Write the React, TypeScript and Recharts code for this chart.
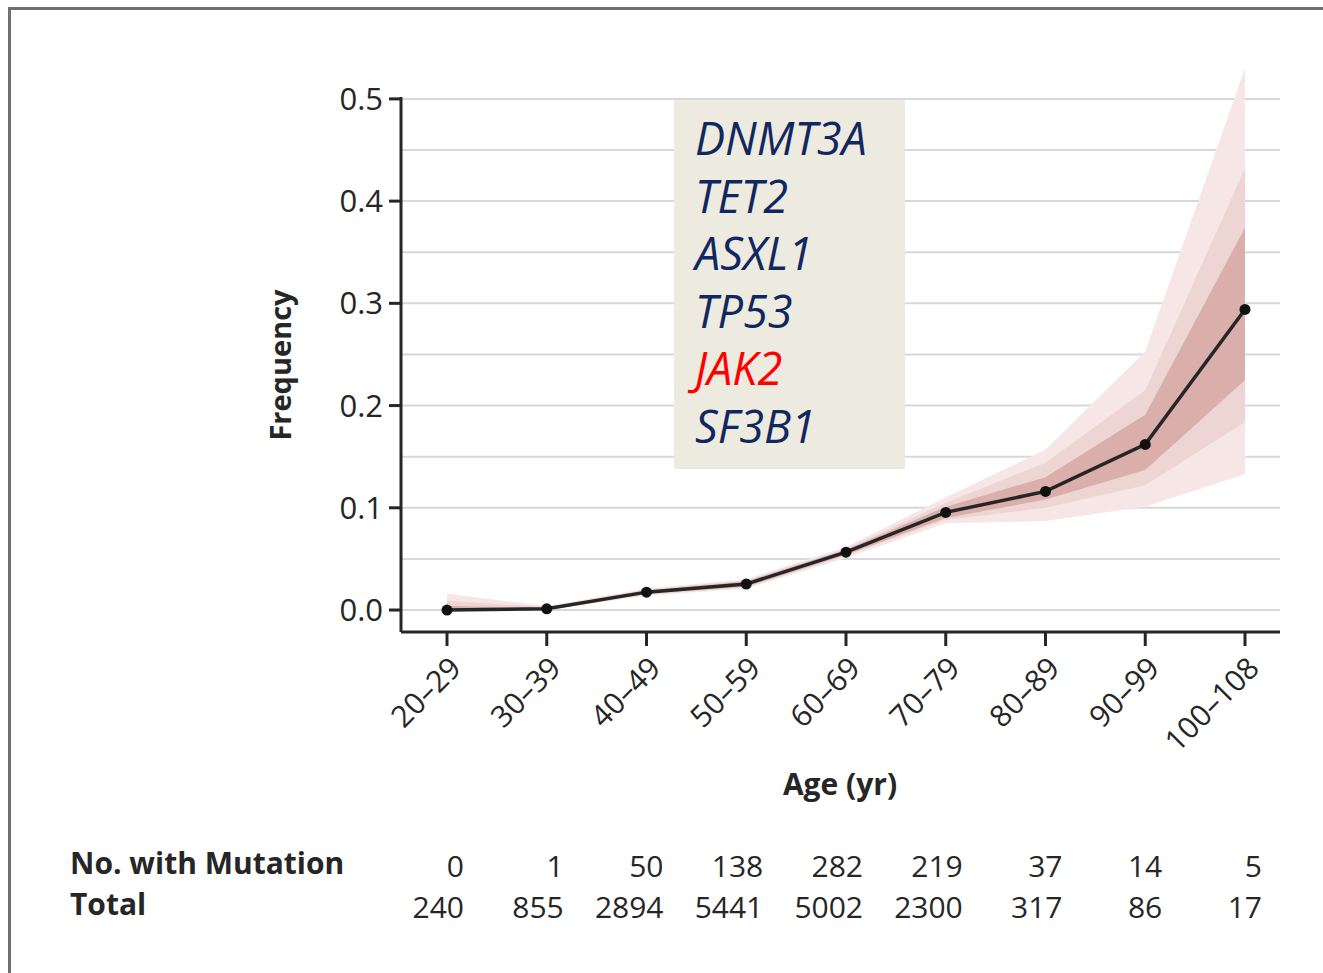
import { ComposedChart, Area, Line, XAxis, YAxis, CartesianGrid } from "recharts";

const ageGroups = ["20–29", "30–39", "40–49", "50–59", "60–69", "70–79", "80–89", "90–99", "100–108"];
const frequency = [0, 0.0012, 0.0175, 0.0254, 0.0566, 0.0955, 0.116, 0.162, 0.294];
const outerBand = [
  [0, 0.016], [0, 0.004], [0.014, 0.021], [0.021, 0.03], [0.051, 0.062],
  [0.085, 0.11], [0.087, 0.157], [0.101, 0.253], [0.133, 0.53],
];
const middleBand = [
  [0, 0.009], [0, 0.003], [0.015, 0.02], [0.022, 0.029], [0.053, 0.06],
  [0.088, 0.105], [0.1, 0.144], [0.122, 0.215], [0.184, 0.432],
];
const innerBand = [
  [0, 0.004], [0, 0.002], [0.016, 0.019], [0.023, 0.028], [0.054, 0.059],
  [0.09, 0.101], [0.108, 0.13], [0.137, 0.191], [0.225, 0.374],
];
const withMutation = [0, 1, 50, 138, 282, 219, 37, 14, 5];
const totals = [240, 855, 2894, 5441, 5002, 2300, 317, 86, 17];
const yTicks = [0, 0.1, 0.2, 0.3, 0.4, 0.5];
const gridValues = [0, 0.05, 0.1, 0.15, 0.2, 0.25, 0.3, 0.35, 0.4, 0.45, 0.5];
const genes = ["DNMT3A", "TET2", "ASXL1", "TP53", "JAK2", "SF3B1"];
const highlightGene = "JAK2";

const data = ageGroups.map((age, i) => ({
  age,
  freq: frequency[i],
  outer: outerBand[i],
  middle: middleBand[i],
  inner: innerBand[i],
}));

const FONT = "'Open Sans', sans-serif";
const INK = "#262626";

// rotated age label plus the two count rows, all placed on the x scale
function AgeTick(props: any) {
  const { x, y, payload } = props;
  const i = ageGroups.indexOf(payload.value);
  const ax = x + 16;
  const ay = y + 24;
  return (
    <g fontFamily={FONT} fill={INK}>
      <text x={ax} y={ay} fontSize={30} textAnchor="end" transform={`rotate(-45 ${ax} ${ay})`}>
        {payload.value}
      </text>
      <text x={x + 17} y={y + 231} fontSize={30} textAnchor="end">
        {withMutation[i]}
      </text>
      <text x={x + 17} y={y + 272} fontSize={30} textAnchor="end">
        {totals[i]}
      </text>
    </g>
  );
}

export default function App() {
  return (
    <div
      style={{
        position: "absolute",
        left: 0,
        top: 0,
        width: 1323,
        height: 973,
        overflow: "hidden",
        background: "#fff",
      }}
    >
      <div
        style={{
          position: "absolute",
          left: 8,
          top: 7,
          width: 1400,
          height: 1100,
          border: "3px solid #6f6f6f",
        }}
      />
      <ComposedChart
        width={1323}
        height={973}
        data={data}
        margin={{ top: 58, right: 43, bottom: 281, left: 341 }}
      >
        <CartesianGrid
          vertical={false}
          horizontalValues={gridValues}
          stroke="#d6d8db"
          strokeWidth={2}
        />
        <XAxis
          dataKey="age"
          padding={{ left: 46, right: 35 }}
          height={60}
          tickSize={14}
          tickMargin={0}
          axisLine={{ stroke: INK, strokeWidth: 3 }}
          tickLine={{ stroke: INK, strokeWidth: 3 }}
          tick={<AgeTick />}
          interval={0}
        />
        <YAxis
          type="number"
          domain={[-0.0215, 0.54]}
          allowDataOverflow
          ticks={yTicks}
          width={60}
          tickSize={12}
          tickMargin={6}
          tickFormatter={(v: number) => v.toFixed(1)}
          axisLine={{ stroke: INK, strokeWidth: 3, strokeDasharray: "0 39 700" }}
          tickLine={{ stroke: INK, strokeWidth: 3 }}
          tick={{ fill: INK, fontSize: 31, fontFamily: FONT }}
        />
        <Area dataKey="outer" stroke="none" fill="#f6e7e6" fillOpacity={1} isAnimationActive={false} />
        <Area dataKey="middle" stroke="none" fill="#edd5d3" fillOpacity={1} isAnimationActive={false} />
        <Area dataKey="inner" stroke="none" fill="#d9aeab" fillOpacity={1} isAnimationActive={false} />
        <Line
          dataKey="freq"
          stroke="#262626"
          strokeWidth={3.5}
          dot={{ r: 5.5, fill: "#111", stroke: "none" }}
          isAnimationActive={false}
        />
      </ComposedChart>

      <div
        style={{
          position: "absolute",
          left: 674,
          top: 100,
          width: 231,
          height: 369,
          background: "#edeae0",
          boxSizing: "border-box",
          padding: "9px 0 0 21px",
          fontFamily: FONT,
          fontStyle: "italic",
          fontSize: 45,
          lineHeight: "57.6px",
          color: "#10285f",
        }}
      >
        {genes.map((g) => (
          <div key={g} style={{ color: g === highlightGene ? "#ff0000" : "#10285f" }}>
            {g}
          </div>
        ))}
      </div>

      <div
        style={{
          position: "absolute",
          left: 279,
          top: 365,
          transform: "translate(-50%, -50%) rotate(-90deg)",
          fontFamily: FONT,
          fontWeight: 700,
          fontSize: 29,
          color: INK,
          whiteSpace: "nowrap",
        }}
      >
        Frequency
      </div>
      <div
        style={{
          position: "absolute",
          left: 840,
          top: 783,
          transform: "translate(-50%, -50%)",
          fontFamily: FONT,
          fontWeight: 700,
          fontSize: 30,
          color: INK,
          whiteSpace: "nowrap",
        }}
      >
        Age (yr)
      </div>
      <div
        style={{
          position: "absolute",
          left: 70,
          top: 842,
          fontFamily: FONT,
          fontWeight: 700,
          fontSize: 30,
          lineHeight: "41px",
          color: INK,
          whiteSpace: "nowrap",
        }}
      >
        <div>No. with Mutation</div>
        <div>Total</div>
      </div>
    </div>
  );
}
